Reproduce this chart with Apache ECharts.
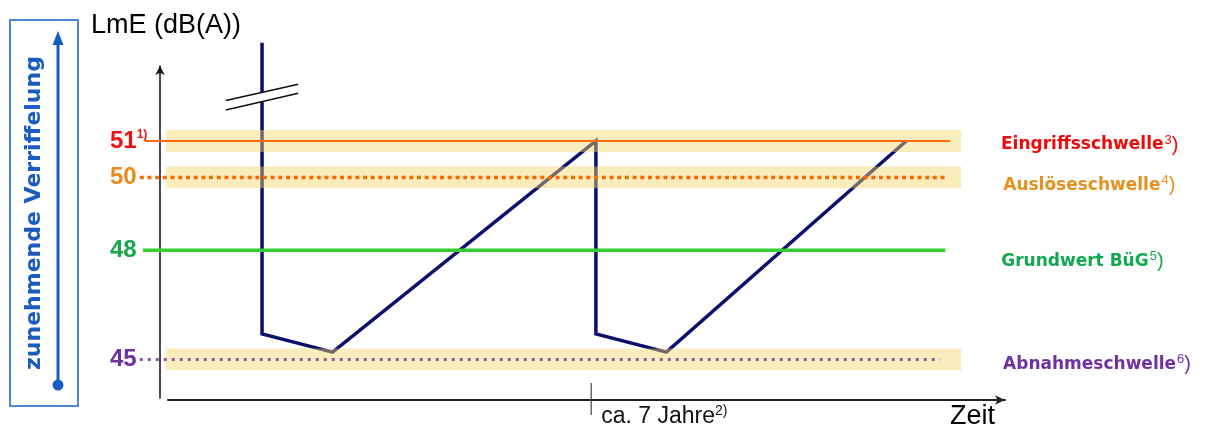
<!DOCTYPE html>
<html>
<head>
<meta charset="utf-8">
<script src="https://cdn.jsdelivr.net/npm/echarts@6/dist/echarts.min.js"></script>
<style>
  html, body { margin: 0; padding: 0; background: #fff; }
  #chart { width: 1205px; height: 429px; }
</style>
</head>
<body>
<div id="chart"></div>
<script>
// Verlauf LmE (Jahre / dB(A))
const timeYears = [0, 0, 1.5, 7.1, 7.1, 8.6, 13.7];
const levelDb = [53.7, 45.7, 45.2, 51, 45.7, 45.2, 51];

// Schwellen
const thresholdValues = [51, 50, 48, 45];
const thresholdNames = ['Eingriffsschwelle', 'Auslöseschwelle', 'Grundwert BüG', 'Abnahmeschwelle'];
const thresholdNotes = ['3', '4', '5', '6'];
const axisNotes = ['1)', '', '', ''];
const bandValues = [51, 50, 45];

// x-Achse
const timeTickValues = [7];
const timeTickLabels = ['ca. 7 Jahre'];
const timeTickNotes = ['2)'];

// --- styles / layout ---
const labelColors = ['#ee1111', '#e8891a', '#14a84c', '#7030a0'];
const rightColors = ['#ee0a0a', '#e8901e', '#12a84f', '#7030a0'];
const lineStyles = [
  { stroke: '#ff6a13', lineWidth: 2 },
  { stroke: '#ff6a00', lineWidth: 3.5, lineDash: [4, 3.7] },
  { stroke: '#33cc33', lineWidth: 3.5 },
  { stroke: '#8c5a98', lineWidth: 3, lineDash: [3, 5] }
];
const lineSpan = [[-2.49, 14.63], [-2.6, 14.55], [-2.53, 14.53], [-2.6, 14.42]];
const labelShift = [[51, 4], [57, 8], [56, 11], [63, 5]];
const BAND_X0 = -2.04, BAND_X1 = 14.87, BAND_HALF = 0.3;
const breakLines = [[-0.77, 52.11, 0.77, 52.56], [-0.77, 51.85, 0.77, 52.31]];
const narrow = "'Liberation Sans Narrow', 'Liberation Sans', Arial, sans-serif";
const sans = "'Liberation Sans', Arial, sans-serif";
const dejavu = "'DejaVu Sans', sans-serif";

const chart = echarts.init(document.getElementById('chart'));

const yRich = {};
thresholdValues.forEach((v, i) => {
  yRich['n' + i] = { fontFamily: narrow, fontWeight: 'bold', fontSize: 24, color: labelColors[i], lineHeight: 24 };
  yRich['s' + i] = { fontFamily: narrow, fontWeight: 'bold', fontSize: 12, color: labelColors[i], lineHeight: 14, verticalAlign: 'top' };
});

function rightRich(c) {
  return {
    n: { fontFamily: dejavu, fontWeight: 'bold', fontSize: 17, fill: c, color: c, lineHeight: 22 },
    s: { fontFamily: sans, fontSize: 13, fill: c, color: c, lineHeight: 15, verticalAlign: 'top', padding: [0, 0, 0, 1] },
    p: { fontFamily: sans, fontSize: 20, fill: c, color: c, lineHeight: 22 }
  };
}

chart.setOption({
  animation: false,
  grid: { left: 168, top: 66, width: 837, height: 332, containLabel: false, outerBoundsMode: 'none' },
  xAxis: {
    type: 'value',
    min: -2,
    max: 15.8,
    offset: 2,
    splitLine: { show: false },
    axisLine: {
      show: true, onZero: false,
      symbol: ['none', 'arrow'], symbolSize: [7, 10],
      lineStyle: { color: '#222', width: 2 }
    },
    axisTick: { show: false },
    axisLabel: {
      show: true,
      customValues: timeTickValues,
      align: 'left',
      margin: 4,
      formatter: v => {
        const i = timeTickValues.indexOf(v);
        return '{t|' + timeTickLabels[i] + '}{s|' + timeTickNotes[i] + '}';
      },
      rich: {
        t: { fontFamily: sans, fontSize: 23, color: '#111', padding: [0, 0, 0, 10], lineHeight: 26 },
        s: { fontFamily: sans, fontSize: 14, color: '#111', lineHeight: 16, verticalAlign: 'top' }
      }
    },
    name: 'Zeit',
    nameLocation: 'end',
    nameGap: -10,
    nameTextStyle: { fontFamily: sans, fontSize: 27, color: '#000', align: 'right', verticalAlign: 'top', padding: [3, 0, 0, 0] }
  },
  yAxis: {
    type: 'value',
    min: 43.94,
    max: 53.06,
    offset: 8,
    splitLine: { show: false },
    axisLine: {
      show: true, onZero: false,
      symbol: ['none', 'arrow'], symbolSize: [7, 9],
      lineStyle: { color: '#111', width: 1.5 }
    },
    axisTick: { show: false },
    axisLabel: {
      show: true,
      customValues: thresholdValues,
      align: 'left',
      margin: 50,
      formatter: v => {
        const i = thresholdValues.indexOf(v);
        return '{n' + i + '|' + v + '}' + (axisNotes[i] ? '{s' + i + '|' + axisNotes[i] + '}' : '');
      },
      rich: yRich
    },
    name: 'LmE (dB(A))',
    nameLocation: 'end',
    nameGap: 40,
    nameTextStyle: { fontFamily: sans, fontSize: 27, color: '#000', align: 'center', verticalAlign: 'middle', padding: [0, 0, 0, 12] }
  },
  graphic: [
    { type: 'rect', shape: { x: 10, y: 20, width: 68, height: 386 }, style: { fill: 'none', stroke: '#4f86d6', lineWidth: 2 } },
    { type: 'line', shape: { x1: 58, y1: 385, x2: 58, y2: 42 }, style: { stroke: '#1a5cc0', lineWidth: 3 } },
    { type: 'polygon', shape: { points: [[58, 31], [52.5, 45], [63.5, 45]] }, style: { fill: '#1a5cc0' } },
    { type: 'circle', shape: { cx: 58, cy: 385, r: 5.5 }, style: { fill: '#1a5cc0' } },
    {
      type: 'text', x: 34, y: 213, rotation: Math.PI / 2,
      style: { text: 'zunehmende Verriffelung', fill: '#1a5cc0', font: 'bold 22px "DejaVu Sans"', align: 'center', verticalAlign: 'middle' }
    }
  ],
  series: [
    {
      type: 'line',
      name: 'LmE',
      z: 2,
      clip: false,
      silent: true,
      symbol: 'none',
      lineStyle: { color: '#0b106b', width: 3.5, join: 'miter' },
      data: timeYears.map((t, i) => [t, levelDb[i]])
    },
    {
      type: 'custom',
      name: 'Bänder',
      z: 3,
      silent: true,
      data: bandValues.map(v => [BAND_X0, v]),
      renderItem: (params, api) => {
        const a = api.coord([BAND_X0, api.value(1) + BAND_HALF]);
        const b = api.coord([BAND_X1, api.value(1) - BAND_HALF]);
        return {
          type: 'rect',
          shape: { x: a[0], y: a[1], width: b[0] - a[0], height: b[1] - a[1] },
          style: { fill: 'rgba(244,215,106,0.45)' }
        };
      }
    },
    {
      type: 'custom',
      name: 'Schwellen',
      z: 4,
      silent: true,
      data: thresholdValues.map((v, i) => [i, v]),
      renderItem: (params, api) => {
        const i = params.dataIndex;
        const v = api.value(1);
        const a = api.coord([lineSpan[i][0], v]);
        const b = api.coord([lineSpan[i][1], v]);
        return {
          type: 'group',
          children: [
            {
              type: 'line',
              shape: { x1: a[0], y1: a[1], x2: b[0], y2: b[1] },
              style: Object.assign({ lineCap: 'butt' }, lineStyles[i])
            },
            {
              type: 'text',
              x: b[0] + labelShift[i][0],
              y: b[1] + labelShift[i][1],
              style: {
                text: '{n|' + thresholdNames[i] + '}{s|' + thresholdNotes[i] + '}{p|)}',
                rich: rightRich(rightColors[i]),
                align: 'left',
                verticalAlign: 'middle'
              }
            }
          ]
        };
      }
    },
    {
      type: 'line',
      name: 'tick',
      z: 4,
      clip: false,
      silent: true,
      symbol: 'none',
      lineStyle: { color: '#444', width: 1.2 },
      data: [[timeTickValues[0], 44.35], [timeTickValues[0], 43.47]]
    },
    {
      type: 'custom',
      name: 'Bruch',
      z: 5,
      silent: true,
      data: [[0, 52.2]],
      renderItem: (params, api) => {
        const p = breakLines.map(l => [api.coord([l[0], l[1]]), api.coord([l[2], l[3]])]);
        return {
          type: 'group',
          children: [
            { type: 'polygon', shape: { points: [p[0][0], p[0][1], p[1][1], p[1][0]] }, style: { fill: '#fff' } },
            { type: 'line', shape: { x1: p[0][0][0], y1: p[0][0][1], x2: p[0][1][0], y2: p[0][1][1] }, style: { stroke: '#111', lineWidth: 1.6 } },
            { type: 'line', shape: { x1: p[1][0][0], y1: p[1][0][1], x2: p[1][1][0], y2: p[1][1][1] }, style: { stroke: '#111', lineWidth: 1.6 } }
          ]
        };
      }
    }
  ]
});
</script>
</body>
</html>
